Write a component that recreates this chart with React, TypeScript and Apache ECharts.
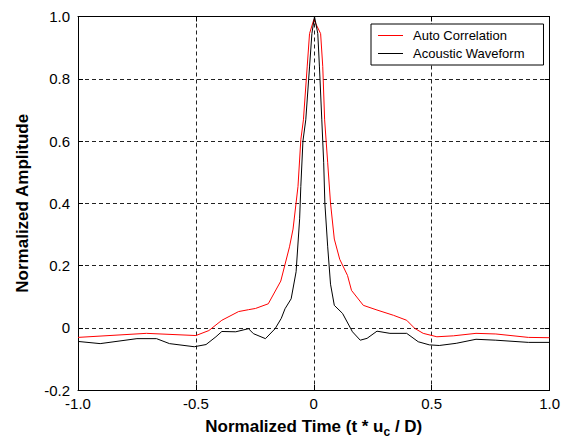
import React, { useEffect, useRef } from "react";
import * as echarts from "echarts";

const autoX = [-1.0, -0.71, -0.5, -0.445, -0.39, -0.319, -0.277, -0.247, -0.193, -0.14, -0.103, -0.088, -0.067, -0.055, -0.044, -0.028, -0.018, 0.0, 0.029, 0.038, 0.046, 0.059, 0.071, 0.087, 0.11, 0.143, 0.16, 0.21, 0.268, 0.338, 0.394, 0.428, 0.464, 0.522, 0.592, 0.688, 0.772, 0.91, 1.0];
const autoY = [-0.031, -0.018, -0.025, -0.009, 0.024, 0.052, 0.058, 0.062, 0.077, 0.15, 0.26, 0.317, 0.454, 0.604, 0.668, 0.838, 0.945, 0.99, 0.945, 0.84, 0.668, 0.53, 0.40, 0.285, 0.22, 0.168, 0.12, 0.072, 0.057, 0.04, 0.024, -0.002, -0.018, -0.029, -0.026, -0.018, -0.02, -0.031, -0.032];

const acX = [-1.0, -0.906, -0.75, -0.667, -0.612, -0.507, -0.457, -0.415, -0.39, -0.331, -0.277, -0.256, -0.205, -0.164, -0.138, -0.122, -0.096, -0.075, -0.06, -0.055, -0.046, -0.034, -0.018, -0.008, 0.003, 0.017, 0.024, 0.034, 0.042, 0.047, 0.059, 0.071, 0.087, 0.122, 0.164, 0.197, 0.226, 0.268, 0.323, 0.394, 0.443, 0.49, 0.532, 0.604, 0.688, 0.772, 0.91, 1.0];
const acY = [-0.044, -0.051, -0.035, -0.035, -0.051, -0.061, -0.054, -0.029, -0.012, -0.013, -0.003, -0.019, -0.035, -0.003, 0.03, 0.061, 0.093, 0.18, 0.35, 0.454, 0.6, 0.668, 0.838, 0.945, 1.0, 0.945, 0.838, 0.668, 0.53, 0.40, 0.26, 0.14, 0.072, 0.046, -0.013, -0.04, -0.034, -0.011, -0.018, -0.018, -0.045, -0.055, -0.057, -0.05, -0.037, -0.04, -0.047, -0.047];

const seriesNames = ["Auto Correlation", "Acoustic Waveform"];
const seriesColors = ["#ff0000", "#000000"];
const xTitle = "Normalized Time (t * u{sub|c} / D)";
const yTitle = "Normalized Amplitude";

const FONT = "Arial, 'Liberation Sans', sans-serif";

const fmt = (v: number) => (Math.abs(v) < 1e-9 ? "0" : v.toFixed(1));

export default function App() {
  const ref = useRef<HTMLDivElement>(null);
  useEffect(() => {
    if (!ref.current) return;
    const chart = echarts.init(ref.current, undefined, { renderer: "svg" });
    const zip = (xs: number[], ys: number[]) => xs.map((x, i) => [x, ys[i]]);
    const split = { show: true, lineStyle: { color: "#222", type: [4, 3] as any, width: 1 } };
    const axisLine = { show: true, onZero: false, lineStyle: { color: "#000", width: 1 } };
    const tick = { show: true, inside: true, length: 5, lineStyle: { color: "#000" } };
    chart.setOption({
      animation: false,
      backgroundColor: "#fff",
      grid: { left: 78, right: 8, top: 16.5, bottom: 51 },
      legend: {
        data: seriesNames.map((n, i) => ({ name: n, icon: "rect", itemStyle: { color: seriesColors[i] } })),
        orient: "vertical",
        left: 371,
        top: 24,
        padding: [4, 19, 4, 7],
        itemWidth: 25,
        itemHeight: 1,
        itemGap: 3,
        backgroundColor: "#fff",
        borderColor: "#000",
        borderWidth: 1,
        borderRadius: 0,
        textStyle: { fontFamily: FONT, fontSize: 13, lineHeight: 15, color: "#000", padding: [0, 0, 0, 5] },
      },
      xAxis: [
        {
          type: "value",
          min: -1,
          max: 1,
          interval: 0.5,
          position: "bottom",
          axisLine,
          axisTick: tick,
          splitLine: split,
          axisLabel: { formatter: fmt, fontFamily: FONT, fontSize: 15, color: "#000", margin: 6 },
          name: xTitle,
          nameLocation: "middle",
          nameGap: 24,
          nameTextStyle: {
            fontFamily: FONT,
            fontSize: 17,
            fontWeight: "bold",
            color: "#000",
            rich: {
              sub: { fontFamily: FONT, fontSize: 12, fontWeight: "bold", color: "#000", padding: [12, 0, 0, 0] },
            },
          },
        },
        {
          type: "value",
          min: -1,
          max: 1,
          interval: 0.5,
          position: "top",
          axisLine,
          axisTick: tick,
          splitLine: { show: false },
          axisLabel: { show: false },
        },
      ],
      yAxis: [
        {
          type: "value",
          min: -0.2,
          max: 1,
          interval: 0.2,
          position: "left",
          axisLine,
          axisTick: tick,
          splitLine: split,
          axisLabel: { formatter: fmt, fontFamily: FONT, fontSize: 15, color: "#000", margin: 8 },
          name: yTitle,
          nameLocation: "middle",
          nameGap: 47,
          nameRotate: 90,
          nameTextStyle: { fontFamily: FONT, fontSize: 17, fontWeight: "bold", color: "#000" },
        },
        {
          type: "value",
          min: -0.2,
          max: 1,
          interval: 0.2,
          position: "right",
          axisLine,
          axisTick: tick,
          splitLine: { show: false },
          axisLabel: { show: false },
        },
      ],
      series: [
        {
          name: seriesNames[0],
          type: "line",
          data: zip(autoX, autoY),
          symbol: "none",
          lineStyle: { color: seriesColors[0], width: 1 },
          itemStyle: { color: seriesColors[0] },
        },
        {
          name: seriesNames[1],
          type: "line",
          data: zip(acX, acY),
          symbol: "none",
          lineStyle: { color: seriesColors[1], width: 1 },
          itemStyle: { color: seriesColors[1] },
        },
      ],
    });
    return () => chart.dispose();
  }, []);
  return <div ref={ref} style={{ position: "absolute", left: 0, top: 0, width: 563, height: 443 }} />;
}
